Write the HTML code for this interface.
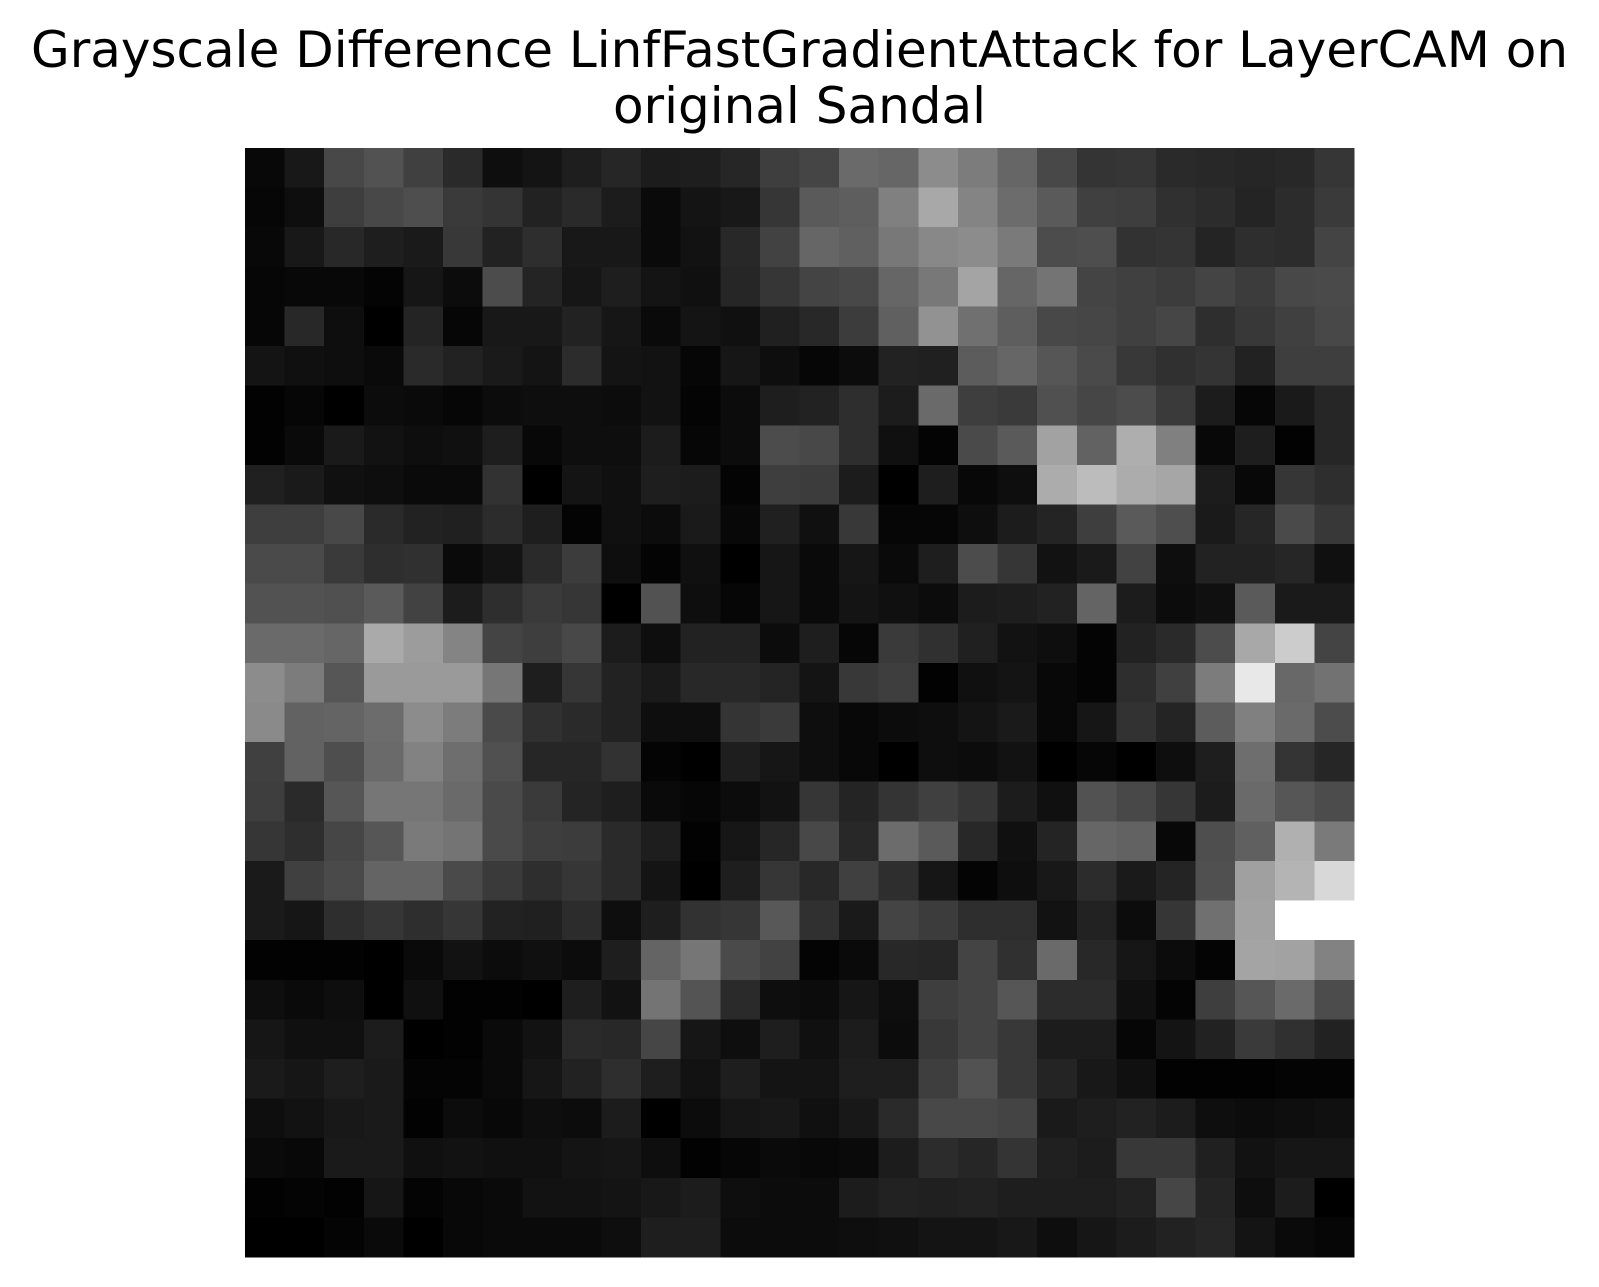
<!DOCTYPE html>
<html><head><meta charset="utf-8"><style>
html,body{margin:0;padding:0;background:#fff;}
svg{display:block;}
</style></head>
<body>
<svg id="chart" width="1599" height="1287" viewBox="0 0 1599 1287" xmlns="http://www.w3.org/2000/svg">
<rect width="1599" height="1287" fill="#fff"/>
<g font-family="'DejaVu Sans', 'Liberation Sans', sans-serif" font-size="50" fill="#000" text-anchor="middle">
<text x="799.5" y="67">Grayscale Difference LinfFastGradientAttack for LayerCAM on</text>
<text x="799.5" y="123">original Sandal</text>
</g>
<g id="cells" shape-rendering="crispEdges"></g>
</svg>
<script>
const rowIndex = [0,1,2,3,4,5,6,7,8,9,10,11,12,13,14,15,16,17,18,19,20,21,22,23,24,25,26,27];
const colIndex = [0,1,2,3,4,5,6,7,8,9,10,11,12,13,14,15,16,17,18,19,20,21,22,23,24,25,26,27];
const grayValues = [
[0x08,0x18,0x48,0x52,0x40,0x2a,0x0e,0x14,0x1e,0x26,0x1c,0x1e,0x26,0x3e,0x45,0x6a,0x66,0x8c,0x7c,0x66,0x48,0x34,0x36,0x2a,0x28,0x26,0x28,0x36],
[0x06,0x0e,0x3e,0x48,0x4e,0x3a,0x34,0x22,0x2a,0x1c,0x0a,0x14,0x18,0x36,0x5a,0x5e,0x80,0xa8,0x84,0x6c,0x5a,0x40,0x3e,0x30,0x2c,0x24,0x2c,0x3a],
[0x08,0x18,0x28,0x1e,0x1a,0x38,0x22,0x2e,0x18,0x18,0x0a,0x12,0x28,0x42,0x66,0x60,0x78,0x88,0x8c,0x7a,0x4c,0x4e,0x32,0x34,0x24,0x2e,0x2c,0x44],
[0x06,0x08,0x08,0x04,0x16,0x0c,0x4c,0x24,0x16,0x1e,0x14,0x10,0x26,0x36,0x44,0x48,0x66,0x78,0xa4,0x66,0x74,0x44,0x40,0x3c,0x44,0x3c,0x48,0x4a],
[0x06,0x28,0x0e,0x00,0x24,0x06,0x18,0x18,0x22,0x16,0x0a,0x14,0x10,0x20,0x28,0x3c,0x60,0x92,0x70,0x5e,0x48,0x46,0x40,0x46,0x2e,0x38,0x40,0x48],
[0x14,0x10,0x0e,0x0a,0x2a,0x22,0x1a,0x14,0x2c,0x14,0x12,0x06,0x16,0x0e,0x06,0x0c,0x22,0x20,0x5c,0x66,0x56,0x4a,0x38,0x30,0x34,0x22,0x3e,0x3e],
[0x02,0x06,0x00,0x0c,0x0a,0x06,0x0c,0x0e,0x0e,0x0c,0x12,0x04,0x0c,0x1e,0x22,0x2e,0x1c,0x6a,0x3e,0x3a,0x50,0x46,0x4c,0x3a,0x1c,0x06,0x1a,0x26],
[0x02,0x0a,0x1a,0x12,0x0e,0x10,0x1e,0x08,0x0e,0x0e,0x1c,0x06,0x0c,0x4c,0x48,0x2e,0x10,0x04,0x4a,0x5a,0xa2,0x62,0xae,0x80,0x08,0x1e,0x02,0x26],
[0x20,0x1a,0x10,0x0e,0x0a,0x0a,0x32,0x00,0x14,0x10,0x1e,0x1c,0x04,0x3e,0x3c,0x1c,0x00,0x1e,0x08,0x0e,0xac,0xbc,0xac,0xa6,0x1c,0x08,0x36,0x2e],
[0x3e,0x3e,0x48,0x2a,0x22,0x20,0x2c,0x1e,0x04,0x10,0x0c,0x1a,0x08,0x20,0x10,0x38,0x06,0x06,0x0e,0x1c,0x24,0x3e,0x5a,0x4e,0x1a,0x26,0x4a,0x38],
[0x4a,0x4a,0x3a,0x2e,0x30,0x0a,0x14,0x2a,0x3c,0x0e,0x04,0x10,0x00,0x16,0x0a,0x16,0x0a,0x1e,0x4c,0x36,0x12,0x1a,0x42,0x0e,0x22,0x22,0x26,0x10],
[0x52,0x52,0x50,0x5a,0x42,0x1c,0x2e,0x3a,0x36,0x00,0x52,0x0e,0x06,0x16,0x0a,0x14,0x10,0x0c,0x1c,0x1e,0x22,0x64,0x1c,0x0c,0x10,0x5a,0x1a,0x1a],
[0x6a,0x6a,0x66,0xaa,0x9c,0x84,0x44,0x3e,0x48,0x1c,0x0e,0x22,0x22,0x0c,0x1e,0x06,0x3a,0x30,0x20,0x12,0x0e,0x04,0x22,0x2a,0x4c,0xa8,0xcc,0x44],
[0x8c,0x7c,0x56,0x9a,0x9a,0x9a,0x76,0x1e,0x36,0x22,0x1a,0x28,0x28,0x24,0x14,0x38,0x3e,0x02,0x10,0x14,0x08,0x04,0x2e,0x40,0x7c,0xe8,0x68,0x72],
[0x8a,0x62,0x64,0x6c,0x8c,0x7c,0x4a,0x30,0x2a,0x22,0x0e,0x0e,0x34,0x3a,0x0e,0x08,0x0c,0x0e,0x14,0x1a,0x08,0x16,0x32,0x24,0x5c,0x80,0x6a,0x4c],
[0x40,0x62,0x4e,0x6a,0x82,0x6e,0x50,0x26,0x26,0x32,0x04,0x00,0x1e,0x16,0x0e,0x08,0x00,0x0e,0x0c,0x12,0x00,0x06,0x00,0x0e,0x1e,0x6e,0x34,0x26],
[0x3e,0x2a,0x56,0x76,0x76,0x6a,0x4a,0x3a,0x24,0x1e,0x0a,0x06,0x0c,0x12,0x36,0x24,0x34,0x40,0x36,0x1c,0x10,0x52,0x48,0x36,0x1c,0x6a,0x56,0x4c],
[0x36,0x2e,0x46,0x56,0x7a,0x74,0x4a,0x3e,0x3c,0x2a,0x1e,0x02,0x16,0x26,0x48,0x28,0x6c,0x5a,0x28,0x10,0x24,0x66,0x62,0x08,0x4e,0x60,0xb0,0x7a],
[0x1a,0x40,0x4a,0x64,0x64,0x4a,0x3a,0x2e,0x36,0x2a,0x14,0x00,0x1e,0x36,0x28,0x40,0x2e,0x16,0x04,0x0e,0x18,0x2c,0x1a,0x24,0x50,0xa0,0xb4,0xd8],
[0x1a,0x16,0x2e,0x36,0x2e,0x36,0x22,0x20,0x2c,0x0e,0x1e,0x32,0x36,0x58,0x30,0x1a,0x44,0x3c,0x2e,0x2e,0x12,0x22,0x0c,0x36,0x70,0xa2,0xff,0xff],
[0x02,0x02,0x02,0x00,0x0a,0x12,0x0c,0x10,0x0c,0x1e,0x64,0x76,0x4a,0x42,0x04,0x0a,0x28,0x26,0x44,0x30,0x6a,0x28,0x16,0x0c,0x04,0xa4,0xa2,0x82],
[0x0e,0x0a,0x0e,0x00,0x10,0x02,0x02,0x00,0x1e,0x12,0x74,0x54,0x2a,0x0e,0x0c,0x16,0x0e,0x3e,0x44,0x56,0x2c,0x2c,0x10,0x04,0x3e,0x56,0x6a,0x4c],
[0x16,0x10,0x10,0x1c,0x00,0x02,0x0a,0x12,0x2a,0x28,0x46,0x16,0x0e,0x1e,0x10,0x1c,0x0c,0x38,0x44,0x38,0x1c,0x1c,0x06,0x14,0x22,0x3a,0x30,0x22],
[0x1a,0x16,0x1e,0x1a,0x04,0x04,0x0a,0x16,0x22,0x2e,0x1e,0x12,0x1e,0x14,0x14,0x1e,0x1e,0x3e,0x52,0x38,0x24,0x18,0x10,0x02,0x02,0x02,0x04,0x04],
[0x0e,0x12,0x18,0x1a,0x02,0x0c,0x08,0x0e,0x0c,0x1c,0x00,0x0c,0x16,0x18,0x10,0x18,0x2a,0x48,0x48,0x44,0x1a,0x1e,0x22,0x1c,0x0e,0x0c,0x0e,0x10],
[0x0a,0x08,0x1a,0x1a,0x10,0x12,0x10,0x10,0x14,0x16,0x0e,0x02,0x06,0x0a,0x08,0x0a,0x1c,0x2c,0x26,0x34,0x20,0x1c,0x38,0x38,0x20,0x12,0x16,0x16],
[0x02,0x04,0x02,0x16,0x04,0x08,0x0a,0x12,0x12,0x14,0x18,0x1c,0x0e,0x0c,0x0c,0x1c,0x22,0x20,0x22,0x1e,0x1e,0x1e,0x22,0x46,0x24,0x0e,0x1c,0x00],
[0x00,0x00,0x04,0x0a,0x00,0x08,0x0a,0x0a,0x0a,0x0e,0x1e,0x1e,0x0c,0x0c,0x0c,0x0e,0x10,0x14,0x14,0x18,0x0e,0x16,0x1c,0x22,0x26,0x14,0x0a,0x06]
];

const plotLeft = 245, plotTop = 148, plotSize = 1109;
function xScale(c){ return plotLeft + c * plotSize / colIndex.length; }
function yScale(r){ return plotTop + r * plotSize / rowIndex.length; }

const NS = 'http://www.w3.org/2000/svg';
const g = document.getElementById('cells');
rowIndex.forEach(function(r){
  colIndex.forEach(function(c){
    const v = grayValues[r][c];
    const el = document.createElementNS(NS, 'rect');
    const x0 = xScale(c), x1 = xScale(c + 1), y0 = yScale(r), y1 = yScale(r + 1);
    el.setAttribute('x', x0.toFixed(2));
    el.setAttribute('y', y0.toFixed(2));
    el.setAttribute('width', (x1 - x0 + 0.6).toFixed(2));
    el.setAttribute('height', (y1 - y0 + 0.6).toFixed(2));
    el.setAttribute('fill', 'rgb(' + v + ',' + v + ',' + v + ')');
    
    
    g.appendChild(el);
  });
});
</script>
</body></html>
